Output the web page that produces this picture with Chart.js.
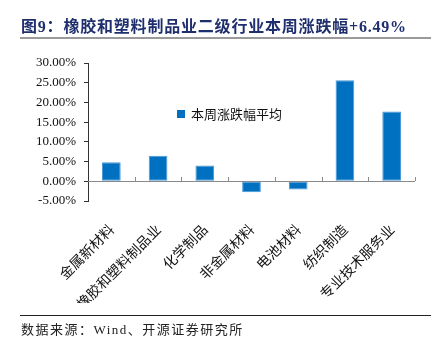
<!DOCTYPE html>
<html lang="zh">
<head>
  <meta charset="UTF-8">
  <title>图9</title>
  <script src="https://cdn.jsdelivr.net/npm/chart.js"></script>
  <style>
    body {
      margin: 0;
      width: 444px;
      height: 348px;
      background: #fff;
      position: relative;
      overflow: hidden;
    }
    .title {
      position: absolute;
      left: 21px;
      top: 13px;
      font-family: "Liberation Serif", "Noto Sans CJK SC", serif;
      font-weight: bold;
      font-size: 16px;
      letter-spacing: 0.8px;
      color: #1f2f6e;
      white-space: nowrap;
    }
    .title-rule {
      position: absolute;
      left: 20px;
      top: 37px;
      width: 411px;
      height: 2px;
      background: #9a9a9a;
    }
    .source-rule {
      position: absolute;
      left: 20px;
      top: 315px;
      width: 411px;
      height: 1px;
      background: #222;
    }
    .source {
      position: absolute;
      left: 21px;
      top: 319px;
      font-family: "Liberation Serif", "Noto Sans CJK SC", serif;
      font-size: 13px;
      letter-spacing: 1.5px;
      color: #222;
      white-space: nowrap;
    }
    .chart-box {
      position: absolute;
      left: 0;
      top: 0;
      width: 444px;
      height: 348px;
    }
    .legend {
      position: absolute;
      left: 177px;
      top: 104px;
      font-family: "Noto Sans CJK SC", sans-serif;
      font-size: 13px;
      color: #111;
      white-space: nowrap;
    }
    .legend i {
      display: inline-block;
      width: 8px;
      height: 8px;
      background: #0070c0;
      margin-right: 6px;
      vertical-align: 1px;
    }
  </style>
</head>
<body>
  <div class="chart-box"><canvas id="chart"></canvas></div>
  <div class="title">图9：橡胶和塑料制品业二级行业本周涨跌幅+6.49%</div>
  <div class="title-rule"></div>
  <div class="legend"><i></i><span id="legendText"></span></div>
  <div class="source-rule"></div>
  <div class="source">数据来源：Wind、开源证券研究所</div>

  <script>
    const categories = ['金属新材料', '橡胶和塑料制品业', '化学制品', '非金属材料', '电池材料', '纺织制造', '专业技术服务业'];
    const weeklyChange = [4.8, 6.5, 4.0, -2.8, -2.1, 25.6, 17.7];
    const seriesName = '本周涨跌幅平均';
    const yTicks = [-5, 0, 5, 10, 15, 20, 25, 30];

    document.getElementById('legendText').innerText = seriesName;

    // zero line with small ticks between categories
    const zeroTicks = {
      id: 'zeroTicks',
      afterDatasetsDraw(chart) {
        const x = chart.scales.x, y = chart.scales.y;
        const y0 = Math.round(y.getPixelForValue(0));
        const step = x.getPixelForValue(1) - x.getPixelForValue(0);
        const ctx = chart.ctx;
        ctx.save();
        ctx.strokeStyle = '#8a8a8a';
        ctx.lineWidth = 1;
        ctx.beginPath();
        ctx.moveTo(chart.chartArea.left, y0 + 0.5);
        ctx.lineTo(chart.chartArea.right, y0 + 0.5);
        for (let i = 0; i < categories.length; i++) {
          const px = Math.round(x.getPixelForValue(i) + step / 2) + 0.5;
          ctx.moveTo(px, y0);
          ctx.lineTo(px, y0 - 4);
        }
        ctx.stroke();
        ctx.restore();
      }
    };

    new Chart(document.getElementById('chart'), {
      type: 'bar',
      data: {
        labels: categories,
        datasets: [{
          label: seriesName,
          data: weeklyChange,
          backgroundColor: '#0070c0',
          borderColor: '#4a97d6',
          borderWidth: 1,
          borderSkipped: false,
          barPercentage: 0.4,
          categoryPercentage: 1
        }]
      },
      options: {
        responsive: true,
        maintainAspectRatio: false,
        animation: false,
        layout: { padding: { left: 10, right: 29, top: 63, bottom: 45 } },
        plugins: {
          legend: { display: false },
          tooltip: { enabled: false }
        },
        scales: {
          x: {
            grid: { display: false },
            border: { display: false },
            ticks: {
              maxRotation: 45,
              minRotation: 45,
              autoSkip: false,
              padding: 12,
              color: '#111',
              font: { family: 'Noto Sans CJK SC', size: 14 }
            },
            afterFit(scale) { scale.height = 102; }
          },
          y: {
            min: -5,
            max: 30,
            afterBuildTicks(scale) { scale.ticks = yTicks.map(v => ({ value: v })); },
            grid: { drawOnChartArea: false, drawTicks: true, tickLength: 4, color: '#333' },
            border: { display: true, color: '#333' },
            ticks: {
              padding: 8,
              color: '#111',
              font: { family: 'Liberation Serif', size: 13 },
              callback: v => v.toFixed(2) + '%'
            },
            afterFit(scale) { scale.width = 78; }
          }
        }
      },
      plugins: [zeroTicks]
    });
  </script>
</body>
</html>
